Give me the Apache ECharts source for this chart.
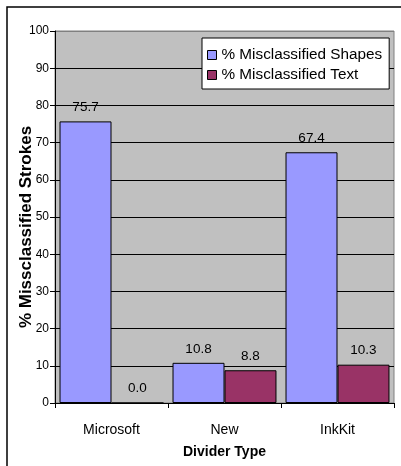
<!DOCTYPE html>
<html>
<head>
<meta charset="utf-8">
<script src="https://cdn.jsdelivr.net/npm/echarts@6/dist/echarts.min.js"></script>
<style>html,body{margin:0;padding:0;background:#fff;}#c{width:401px;height:466px;}</style>
</head>
<body>
<div id="c"></div>
<script>
var categories = ['Microsoft', 'New', 'InkKit'];
var shapesValues = [75.7, 10.8, 67.4];
var textValues = [0.0, 8.8, 10.3];
var seriesNames = ['% Misclassified Shapes', '% Misclassified Text'];
var yTicks = [0, 10, 20, 30, 40, 50, 60, 70, 80, 90, 100];

var FONT = 'Liberation Sans, Arial, sans-serif';
var chart = echarts.init(document.getElementById('c'), null, {renderer: 'canvas'});
var gridColors = yTicks.map(function (t, i) { return i === yTicks.length - 1 ? '#808080' : '#000000'; });

function labelCfg() {
  return {
    show: true, position: 'top', distance: 7,
    fontFamily: FONT, fontSize: 13.5, color: '#000',
    formatter: function (p) { return p.value.toFixed(1); }
  };
}

chart.setOption({
  animation: false,
  backgroundColor: '#ffffff',
  textStyle: {fontFamily: FONT},
  graphic: [{
    type: 'rect', z: -10, silent: true,
    shape: {x: 7, y: 7, width: 600, height: 600},
    style: {fill: 'none', stroke: '#000', lineWidth: 1.5}
  }],
  grid: {
    left: 55, right: 7, top: 31, bottom: 63,
    containLabel: false, outerBoundsMode: 'none',
    show: true, backgroundColor: '#C0C0C0', borderColor: '#808080', borderWidth: 1
  },
  legend: {
    orient: 'vertical', left: 202, top: 38,
    padding: [8, 7, 5, 5], itemGap: 2,
    itemWidth: 9, itemHeight: 9, icon: 'rect',
    backgroundColor: '#ffffff', borderColor: '#000000', borderWidth: 1,
    itemStyle: {borderColor: '#000', borderWidth: 1},
    textStyle: {fontFamily: FONT, fontSize: 15.3, color: '#000', lineHeight: 18},
    data: seriesNames
  },
  xAxis: {
    type: 'category', data: categories,
    name: 'Divider Type', nameLocation: 'middle', nameGap: 42, nameMoveOverlap: false,
    nameTextStyle: {fontFamily: FONT, fontSize: 14, fontWeight: 'bold', color: '#000'},
    axisLine: {show: true, lineStyle: {color: '#000', width: 1}},
    axisTick: {show: true, length: 5, lineStyle: {color: '#000'}},
    axisLabel: {margin: 20, fontFamily: FONT, fontSize: 14, color: '#000'},
    splitLine: {show: false}
  },
  yAxis: {
    type: 'value', min: 0, max: 100, interval: 10,
    name: '% Missclassified Strokes', nameLocation: 'middle', nameGap: 20, nameRotate: 90,
    nameMoveOverlap: false,
    nameTextStyle: {fontFamily: FONT, fontSize: 17, fontWeight: 'bold', color: '#000', padding: [0, 20, 0, 0]},
    axisLine: {show: true, lineStyle: {color: '#000', width: 1}},
    axisTick: {show: true, length: 5, lineStyle: {color: '#000'}},
    axisLabel: {margin: 6, fontFamily: FONT, fontSize: 12, color: '#000'},
    splitLine: {show: true, lineStyle: {color: gridColors, width: 1}}
  },
  series: [{
    name: seriesNames[0], type: 'bar', data: shapesValues,
    barGap: '0%', barCategoryGap: '8%',
    itemStyle: {color: '#9999FF', borderColor: '#000', borderWidth: 1},
    label: labelCfg()
  }, {
    name: seriesNames[1], type: 'bar', data: textValues,
    barGap: '0%', barCategoryGap: '8%',
    itemStyle: {color: '#993366', borderColor: '#000', borderWidth: 1},
    label: labelCfg()
  }]
});
</script>
</body>
</html>
